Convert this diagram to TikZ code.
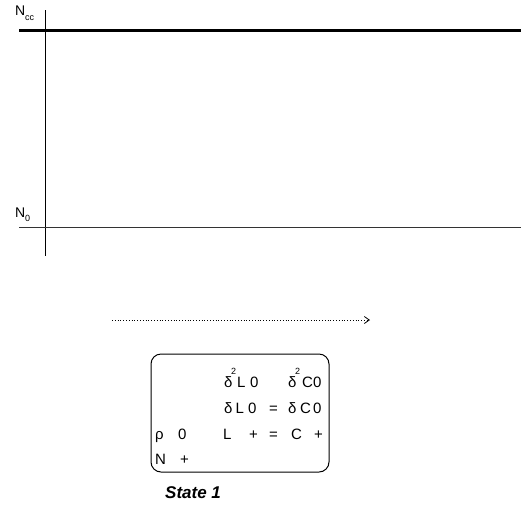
\documentclass[tikz,border=0pt]{standalone}
\usepackage{fontspec}
\setmainfont{Liberation Sans}
\usetikzlibrary{arrows.meta}
\begin{document}
\begin{tikzpicture}[x=1pt,y=-1pt,
  lbl/.style={inner sep=0pt, anchor=base west, font=\fontsize{15}{17}\selectfont},
  sup/.style={inner sep=0pt, anchor=base west, font=\fontsize{9}{10}\selectfont},
  axl/.style={inner sep=0pt, anchor=base west, font=\fontsize{14}{16}\selectfont},
  thickline/.style={line width=3pt},
  thinline/.style={line width=1.5pt, black!80},
]
\useasboundingbox (0,0) rectangle (521,504);
% axes
\coordinate (v0) at (45.5,10);
\coordinate (v1) at (45.5,256);
\coordinate (t0) at (19,30);
\coordinate (t1) at (521,30);
\coordinate (b0) at (19,227.5);
\coordinate (b1) at (521,227.5);
\draw[line width=1pt] (v0) -- (v1);
\draw[thickline] (t0) -- (t1);
\draw[thinline] (b0) -- (b1);
% axis labels
\node[axl] (ncc) at (15,15) {N};
\node[sup] (nccs) at (25,20.5) {cc};
\node[axl] (n0) at (15,217) {N};
\node[sup] (n0s) at (25,221.5) {0};
% dotted arrow
\coordinate (a0) at (112,320);
\coordinate (a1) at (370,320);
\draw[dotted, line width=0.8pt, -{Straight Barb[length=5pt,width=7pt,line width=0.8pt]}] (a0) -- (a1);
% box
\node[draw, line width=1pt, rounded corners=10pt, minimum width=178pt, minimum height=118pt, inner sep=0pt] (box) at (240,413) {};
% row 1
\node[lbl] (r1a) at (224,387) {δ};
\node[sup] (r1b) at (231,374) {2};
\node[lbl] (r1c) at (237,387) {L};
\node[lbl] (r1d) at (250,387) {0};
\node[lbl] (r1e) at (288,387) {δ};
\node[sup] (r1f) at (295,374) {2};
\node[lbl] (r1g) at (302,387) {C};
\node[lbl] (r1h) at (313,387) {0};
% row 2
\node[lbl] (r2a) at (224,413) {δ};
\node[lbl] (r2b) at (235.5,413) {L};
\node[lbl] (r2c) at (248,413) {0};
\node[lbl] (r2d) at (269,413) {=};
\node[lbl] (r2e) at (288,413) {δ};
\node[lbl] (r2f) at (300,413) {C};
\node[lbl] (r2g) at (313,413) {0};
% row 3
\node[lbl] (r3a) at (155,439) {ρ};
\node[lbl] (r3b) at (178,439) {0};
\node[lbl] (r3c) at (223,439) {L};
\node[lbl] (r3d) at (249,439) {+};
\node[lbl] (r3e) at (269,439) {=};
\node[lbl] (r3f) at (291,439) {C};
\node[lbl] (r3g) at (314,439) {+};
% row 4
\node[lbl] (r4a) at (155,464) {N};
\node[lbl] (r4b) at (180,464) {+};
% caption
\node[inner sep=0pt, anchor=base west, font=\fontsize{17}{19}\selectfont\bfseries\itshape] (state) at (165,498) {State 1};
\end{tikzpicture}
\end{document}
